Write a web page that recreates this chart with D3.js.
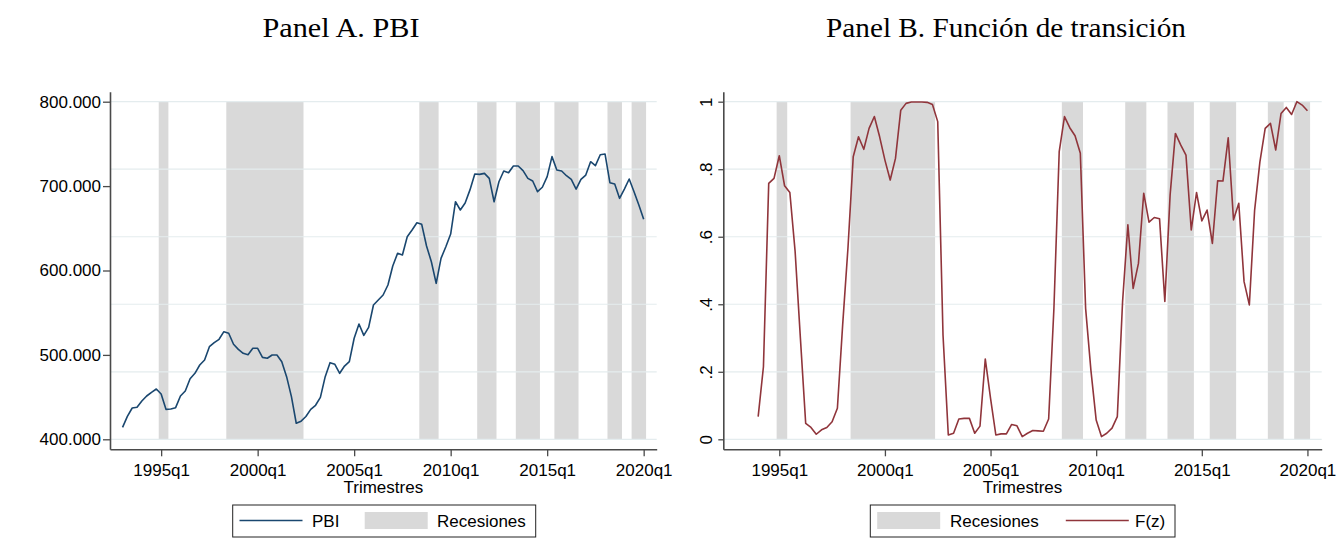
<!DOCTYPE html>
<html>
<head>
<meta charset="utf-8">
<script src="https://cdn.jsdelivr.net/npm/d3@7"></script>
<style>
  body { margin: 0; background: #fff; }
  text { font-family: "Liberation Sans", Arial, sans-serif; fill: #000; }
  .title { font-family: "Liberation Serif", "Times New Roman", serif; }
</style>
</head>
<body>
<svg id="chart" width="1338" height="552"></svg>
<script>
// Quarterly real GDP (PBI), 1993q1 - 2020q1
const pbiStart = "1993q1";
const pbi = [
  414200, 427200, 437100, 437900, 445400, 451300, 455700, 459600,
  453700, 435500, 435900, 437500, 451300, 457200, 471800, 478200,
  488000, 494000, 509700, 514500, 518500, 527500, 525600, 512600,
  506600, 501900, 500200, 507800, 507800, 497100, 496000, 499900,
  499900, 491900, 474200, 450500, 419000, 421500, 427000, 435500,
  440300, 449700, 474200, 490800, 488800, 478200, 486800, 492000,
  519700, 536600, 523200, 532700, 559100, 565000, 571000, 582800,
  605300, 620400, 618400, 640000, 648000, 656600, 654700, 629000,
  610400, 584800, 614400, 628200, 643200, 681500, 671700, 680000,
  695500, 714300, 713900, 715100, 709200, 681500, 705200, 717900,
  715900, 723800, 723800, 718300, 709200, 706000, 693400, 698600,
  711200, 734900, 719100, 717900, 712300, 708000, 696500, 708000,
  713100, 728900, 724200, 737200, 738000, 704000, 702500, 685500,
  696500, 708400, 693400, 677600, 660700
];

// Transition function F(z), 1994q1 - 2020q1
const fzStart = "1994q1";
const fz = [
  0.067, 0.215, 0.758, 0.773, 0.840, 0.751, 0.731, 0.556, 0.299, 0.047,
  0.035, 0.015, 0.028, 0.035, 0.052, 0.092, 0.339, 0.566, 0.837, 0.896,
  0.859, 0.921, 0.956, 0.896, 0.827, 0.768, 0.832, 0.975, 0.995, 0.999,
  0.999, 0.999, 0.998, 0.992, 0.941, 0.309, 0.013, 0.018, 0.060, 0.062,
  0.062, 0.018, 0.039, 0.238, 0.121, 0.013, 0.016, 0.016, 0.044, 0.040,
  0.008, 0.018, 0.026, 0.025, 0.024, 0.060, 0.388, 0.852, 0.956, 0.923,
  0.899, 0.847, 0.388, 0.205, 0.057, 0.008, 0.018, 0.033, 0.067, 0.408,
  0.635, 0.447, 0.521, 0.729, 0.643, 0.657, 0.653, 0.408, 0.724, 0.906,
  0.872, 0.842, 0.620, 0.731, 0.647, 0.679, 0.580, 0.766, 0.765, 0.893,
  0.650, 0.699, 0.467, 0.398, 0.679, 0.822, 0.921, 0.936, 0.857, 0.965,
  0.983, 0.962, 1.000, 0.990, 0.973
];

// Recession episodes (first and last quarter)
const recessions = [
  ["1995q1", "1995q2"], ["1998q3", "2002q2"], ["2008q3", "2009q2"],
  ["2011q3", "2012q2"], ["2013q3", "2014q3"], ["2015q3", "2016q3"],
  ["2018q2", "2018q4"], ["2019q3", "2020q1"]
];

const xTickLabels = ["1995q1", "2000q1", "2005q1", "2010q1", "2015q1", "2020q1"];
const pbiTicks = [400000, 500000, 600000, 700000, 800000];
const pbiGrid = [400000, 480000, 560000, 640000, 720000, 800000];
const fzTicks = [0, 0.2, 0.4, 0.6, 0.8, 1];

const titles = ["Panel A. PBI", "Panel B. Función de transición"];
const xTitle = "Trimestres";

// quarter string -> running quarter number
function qIndex(s) {
  const [y, q] = s.split("q");
  return +y * 4 + (+q - 1);
}

const es = d3.formatLocale({ decimal: ",", thousands: ".", grouping: [3], currency: ["", ""] });
const fmtThousands = es.format(",.0f");
const fmtShare = v => v === 0 ? "0" : v === 1 ? "1" : d3.format(".1f")(v).replace(/^0/, "");

const NAVY = "#1a476f";
const MAROON = "#90353b";
const SHADE = "#d9d9d9";
const GRID = "#e4ecee";
const AXIS = "#4a4a4a";

const svg = d3.select("#chart");
const xDomain = [7969.4, 8082.7];

// legend band (shared by both panels)
const LEG_TOP = 505, LEG_H = 32;

function drawPanel(cfg) {
  const g = svg.append("g");
  const x = d3.scaleLinear().domain(xDomain).range([cfg.left, cfg.right]);
  const y = d3.scaleLinear().domain(cfg.yDomain).range([cfg.bottom, cfg.top]);
  const yLo = cfg.gridValues[0], yHi = cfg.gridValues[cfg.gridValues.length - 1];

  // recession shading, half a quarter beyond each end of the episode
  g.append("g").selectAll("rect").data(recessions).join("rect")
    .attr("x", d => x(qIndex(d[0]) - 0.5))
    .attr("width", d => x(qIndex(d[1]) + 0.5) - x(qIndex(d[0]) - 0.5))
    .attr("y", y(yHi))
    .attr("height", y(yLo) - y(yHi))
    .attr("fill", SHADE);

  // horizontal grid
  g.append("g").selectAll("line").data(cfg.gridValues).join("line")
    .attr("x1", cfg.left).attr("x2", cfg.right)
    .attr("y1", d => y(d)).attr("y2", d => y(d))
    .attr("stroke", GRID).attr("stroke-width", 1.2);

  // series
  const t0 = qIndex(cfg.start);
  const line = d3.line().x((d, i) => x(t0 + i)).y(d => y(d));
  g.append("path").datum(cfg.values)
    .attr("d", line)
    .attr("fill", "none")
    .attr("stroke", cfg.color)
    .attr("stroke-width", 1.6)
    .attr("stroke-linejoin", "round");

  // x axis
  const xAxis = d3.axisBottom(x)
    .tickValues(xTickLabels.map(qIndex))
    .tickFormat((d, i) => xTickLabels[i])
    .tickSizeInner(7).tickSizeOuter(0).tickPadding(0);
  const gx = g.append("g").attr("transform", `translate(0,${cfg.bottom})`).call(xAxis);
  gx.select(".domain").attr("stroke", AXIS).attr("stroke-width", 1.6);
  gx.selectAll(".tick line").attr("stroke", AXIS).attr("stroke-width", 1.3);
  gx.selectAll(".tick text")
    .attr("y", 27).attr("dy", null)
    .style("font-family", "'Liberation Sans', Arial, sans-serif")
    .style("font-size", "17px").attr("fill", "#000");

  // y axis
  const yAxis = d3.axisLeft(y)
    .tickValues(cfg.tickValues)
    .tickFormat(cfg.tickFormat)
    .tickSizeInner(cfg.tickLen).tickSizeOuter(0).tickPadding(2);
  const gy = g.append("g").attr("transform", `translate(${cfg.left},0)`).call(yAxis);
  gy.select(".domain").attr("stroke", AXIS).attr("stroke-width", 1.6);
  gy.selectAll(".tick line").attr("stroke", AXIS).attr("stroke-width", 1.3);
  const yt = gy.selectAll(".tick text")
    .style("font-family", "'Liberation Sans', Arial, sans-serif")
    .style("font-size", "17px").attr("fill", "#000");
  if (cfg.rotateY) {
    yt.attr("x", null).attr("dy", null)
      .attr("text-anchor", "middle")
      .attr("transform", `translate(${cfg.rotX - cfg.left},0) rotate(-90)`);
  }

  // axis title
  g.append("text")
    .attr("x", (cfg.left + cfg.right) / 2).attr("y", cfg.bottom + 43.5)
    .attr("text-anchor", "middle")
    .style("font-size", "17px")
    .text(xTitle);

  // panel title
  g.append("text").attr("class", "title")
    .attr("transform", `translate(${cfg.titleX},37) scale(${cfg.titleStretch},1)`)
    .attr("text-anchor", "middle")
    .style("font-size", "28px")
    .text(cfg.title);

  // legend
  const lg = g.append("g");
  lg.append("rect")
    .attr("x", cfg.legend.x).attr("y", LEG_TOP)
    .attr("width", cfg.legend.w).attr("height", LEG_H)
    .attr("fill", "#fff").attr("stroke", "#222").attr("stroke-width", 1);
  cfg.legend.items.forEach(it => {
    if (it.kind === "line") {
      lg.append("line")
        .attr("x1", it.x).attr("x2", it.x + 63)
        .attr("y1", LEG_TOP + 15.5).attr("y2", LEG_TOP + 15.5)
        .attr("stroke", cfg.color).attr("stroke-width", 1.6);
    } else {
      lg.append("rect")
        .attr("x", it.x).attr("y", LEG_TOP + 7)
        .attr("width", 63).attr("height", 17)
        .attr("fill", SHADE);
    }
    lg.append("text")
      .attr("x", it.tx).attr("y", LEG_TOP + 21.5)
      .style("font-size", "17px")
      .text(it.label);
  });
}

drawPanel({
  left: 110, right: 656.7, top: 91.7, bottom: 449.3,
  yDomain: [388150, 811850],
  gridValues: pbiGrid,
  tickValues: pbiTicks,
  tickFormat: fmtThousands,
  tickLen: 7,
  start: pbiStart, values: pbi, color: NAVY,
  title: titles[0], titleX: 341, titleStretch: 1.08,
  legend: {
    x: 232.7, w: 303,
    items: [
      { kind: "line", x: 239.5, tx: 312, label: "PBI" },
      { kind: "rect", x: 364.7, tx: 437, label: "Recesiones" }
    ]
  }
});

drawPanel({
  left: 723.3, right: 1321.7, top: 91.7, bottom: 449.3,
  yDomain: [-0.0296, 1.0296],
  gridValues: fzTicks,
  tickValues: fzTicks,
  tickFormat: fmtShare,
  tickLen: 5,
  rotateY: true, rotX: 711.5,
  start: fzStart, values: fz, color: MAROON,
  title: titles[1], titleX: 1006, titleStretch: 1.045,
  legend: {
    x: 870.3, w: 304.7,
    items: [
      { kind: "rect", x: 877.2, tx: 950, label: "Recesiones" },
      { kind: "line", x: 1065.8, tx: 1135, label: "F(z)" }
    ]
  }
});
</script>
</body>
</html>
